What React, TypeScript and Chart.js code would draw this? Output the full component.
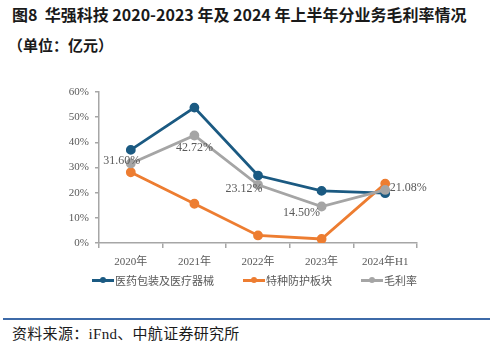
import React, { useEffect, useRef } from "react";
import { Chart, registerables } from "chart.js";

Chart.register(...registerables);

const categories = ["2020年", "2021年", "2022年", "2023年", "2024年H1"];
const medical = [37.0, 53.8, 26.8, 20.7, 19.8];
const protection = [28.1, 15.6, 3.0, 1.6, 23.6];
const grossMargin = [31.6, 42.72, 23.12, 14.5, 21.08];
const marginLabels = ["31.60%", "42.72%", "23.12%", "14.50%", "21.08%"];
const yTicks = [0, 10, 20, 30, 40, 50, 60];

const seriesNames = ["医药包装及医疗器械", "特种防护板块", "毛利率"];
const seriesColors = ["#1b5a82", "#ed7d31", "#a5a5a5"];

// label offsets (style) relative to the gray point
const labelOffsets: [number, number][] = [
  [-9, -3],
  [0, 12],
  [-14, 4],
  [-20, 6],
  [23, -2],
];

const labelPlugin = {
  id: "marginLabels",
  afterDatasetsDraw(chart: any) {
    const ctx = chart.ctx;
    const meta = chart.getDatasetMeta(2);
    ctx.save();
    ctx.font = "12px 'Liberation Serif', 'DejaVu Serif', serif";
    ctx.fillStyle = "#595959";
    ctx.textAlign = "center";
    ctx.textBaseline = "middle";
    meta.data.forEach((pt: any, i: number) => {
      const [dx, dy] = labelOffsets[i];
      ctx.fillText(marginLabels[i], pt.x + dx, pt.y + dy);
    });
    ctx.restore();
  },
};

function LegendItem({ name, color }: { name: string; color: string }) {
  return (
    <div style={{ display: "flex", alignItems: "center" }}>
      <div style={{ position: "relative", width: 22, height: 8, marginRight: 1 }}>
        <div style={{ position: "absolute", left: 0, top: 3, width: 22, height: 2.5, background: color }} />
        <div
          style={{
            position: "absolute",
            left: 8,
            top: 1,
            width: 6,
            height: 6,
            borderRadius: 3,
            background: color,
          }}
        />
      </div>
      <span style={{ fontSize: 11, color: "#595959" }}>{name}</span>
    </div>
  );
}

export default function App() {
  const ref = useRef<HTMLCanvasElement>(null);

  useEffect(() => {
    document.body.style.margin = "0";
    const mk = (label: string, data: number[], color: string, order: number) => ({
      label,
      data,
      order,
      borderColor: color,
      backgroundColor: color,
      borderWidth: 2.8,
      pointRadius: 3.5,
      pointHoverRadius: 3.5,
      pointBackgroundColor: color,
      pointBorderColor: color,
      tension: 0,
    });
    const chart = new Chart(ref.current!, {
      type: "line",
      data: {
        labels: categories,
        datasets: [
          mk(seriesNames[0], medical, seriesColors[0], 3),
          mk(seriesNames[1], protection, seriesColors[1], 2),
          mk(seriesNames[2], grossMargin, seriesColors[2], 1),
        ],
      },
      options: {
        animation: false,
        responsive: false,
        maintainAspectRatio: false,
        layout: { padding: { top: 92, right: 78, left: 0, bottom: 0 } },
        plugins: { legend: { display: false }, tooltip: { enabled: false } },
        scales: {
          x: {
            type: "category",
            offset: true,
            grid: {
              offset: true,
              drawOnChartArea: false,
              drawTicks: true,
              tickLength: 5,
              color: "#a6a6a6",
              lineWidth: 1.5,
            },
            border: { color: "#a6a6a6", width: 1.5 },
            ticks: {
              color: "#595959",
              font: { family: "'Liberation Serif', 'Noto Sans CJK SC', serif", size: 11 },
              padding: 8,
              maxRotation: 0,
            },
            afterFit: (s: any) => {
              s.height = 57;
            },
          },
          y: {
            min: 0,
            max: 60,
            afterBuildTicks: (s: any) => {
              s.ticks = yTicks.map((v) => ({ value: v }));
            },
            grid: {
              drawOnChartArea: false,
              drawTicks: true,
              tickLength: 4,
              color: "#a6a6a6",
              lineWidth: 1.5,
            },
            border: { color: "#a6a6a6", width: 1.5 },
            ticks: {
              color: "#595959",
              font: { family: "'Liberation Serif', serif", size: 11 },
              padding: 6,
              callback: (v: any) => v + "%",
            },
            afterFit: (s: any) => {
              s.width = 99;
            },
          },
        },
      },
      plugins: [labelPlugin],
    });
    return () => chart.destroy();
  }, []);

  return (
    <div
      style={{
        position: "relative",
        width: 495,
        height: 354,
        background: "#fff",
        fontFamily: "'Noto Sans CJK SC', serif",
        overflow: "hidden",
      }}
    >
      <div
        style={{
          position: "absolute",
          left: 12,
          top: 3,
          fontSize: 16,
          fontWeight: "bold",
          color: "#1a1a1a",
          whiteSpace: "nowrap",
          lineHeight: "22px",
        }}
      >
        图8&nbsp;&nbsp;华强科技 2020-2023 年及 2024 年上半年分业务毛利率情况
      </div>
      <div
        style={{
          position: "absolute",
          left: 8,
          top: 34,
          fontSize: 15,
          fontWeight: "bold",
          color: "#1a1a1a",
          whiteSpace: "nowrap",
          lineHeight: "22px",
        }}
      >
        （单位：亿元）
      </div>
      <canvas ref={ref} width={495} height={300} style={{ position: "absolute", left: 0, top: 0 }} />
      <div
        style={{
          position: "absolute",
          left: 0,
          top: 272,
          width: 495,
          display: "flex",
          justifyContent: "center",
          gap: 29,
          paddingLeft: 14,
          boxSizing: "border-box",
        }}
      >
        {seriesNames.map((n, i) => (
          <LegendItem key={n} name={n} color={seriesColors[i]} />
        ))}
      </div>
      <div
        style={{
          position: "absolute",
          left: 3,
          top: 318,
          width: 487,
          height: 2,
          background: "#3d6aa8",
        }}
      />
      <div
        style={{
          position: "absolute",
          left: 12,
          top: 322,
          fontSize: 15,
          color: "#1a1a1a",
          whiteSpace: "nowrap",
          lineHeight: "22px",
          letterSpacing: 0.3,
        }}
      >
        资料来源：<span style={{ fontFamily: "'Liberation Serif', serif" }}>iFnd</span>、中航证券研究所
      </div>
    </div>
  );
}
